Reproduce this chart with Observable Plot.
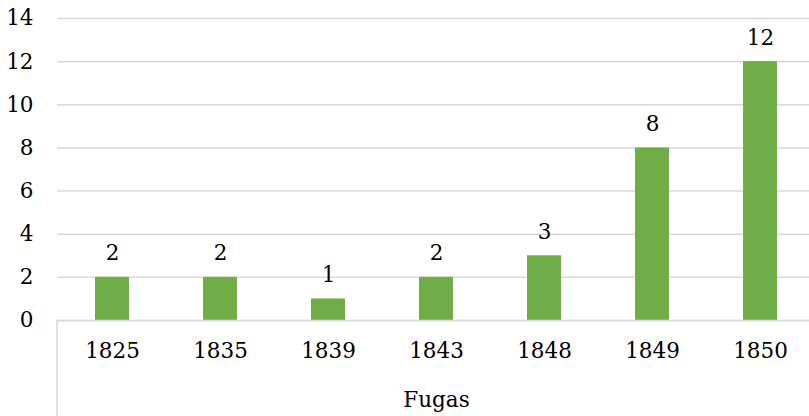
<!DOCTYPE html>
<html>
<head>
<meta charset="utf-8">
<script src="https://cdn.jsdelivr.net/npm/d3@7"></script>
<script src="https://cdn.jsdelivr.net/npm/@observablehq/plot@0.6"></script>
<style>
  html, body { margin: 0; padding: 0; background: #fff; }
  #chart svg { display: block; }
</style>
</head>
<body>
<div id="chart"></div>
<script>
const years = ["1825", "1835", "1839", "1843", "1848", "1849", "1850"];
const fugas = [2, 2, 1, 2, 3, 8, 12];
const yTicks = [0, 2, 4, 6, 8, 10, 12, 14];
const groupLabel = "Fugas";

const data = years.map((y, i) => ({year: y, value: fugas[i]}));
const font = "'DejaVu Serif', serif";
const W = 809, H = 416;
const fs = 21.5;

const plot = Plot.plot({
  width: W,
  height: H,
  marginLeft: 57,
  marginRight: -6,
  marginTop: 18,
  marginBottom: 96,
  style: {fontFamily: font, fontSize: fs + "px", color: "#000", background: "#fff", overflow: "hidden"},
  x: {domain: years, range: [57, 815], paddingInner: 0.686, paddingOuter: 0.343, align: 0.5},
  y: {domain: [0, 14], range: [320, 18]},
  marks: [
    Plot.gridY(yTicks, {stroke: "#d9d9d9", strokeOpacity: 1, strokeWidth: 1.5}),
    Plot.axisY(yTicks, {tickSize: 0, tickPadding: 24, label: null, fontSize: fs, fill: "#000"}),
    Plot.barY(data, {x: "year", y: "value", fill: "#70ad47"}),
    Plot.ruleY([0], {stroke: "#d9d9d9", strokeWidth: 1.5}),
    Plot.text(data, {x: "year", y: "value", text: d => String(d.value), dy: -24, lineAnchor: "middle", fontSize: fs, fill: "#000"}),
    Plot.axisX({tickSize: 0, tickPadding: 22, label: null, fontSize: fs, fill: "#000"}),
    Plot.text([groupLabel], {frameAnchor: "bottom", dy: 80, lineAnchor: "middle", fontSize: fs, fill: "#000"})
  ]
});

// Excel-style multi-level category boundary line at the left edge of the x scale
const xs = plot.scale("x");
const ys = plot.scale("y");
d3.select(plot).append("line")
  .attr("x1", xs.range[0]).attr("x2", xs.range[0])
  .attr("y1", ys.range[0]).attr("y2", H)
  .attr("stroke", "#d9d9d9").attr("stroke-width", 1.5);

document.getElementById("chart").appendChild(plot);
</script>
</body>
</html>
